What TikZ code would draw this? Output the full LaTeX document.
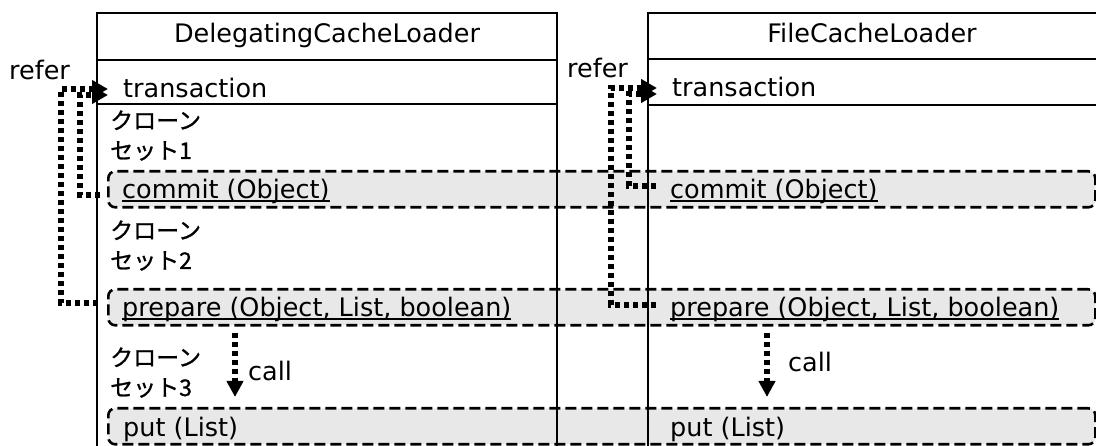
\documentclass[tikz,border=0pt]{standalone}
\usepackage{fontspec}
\setmainfont{DejaVu Sans}
\newfontfamily\jpfont[FakeBold=1]{Noto Sans CJK JP}
\usetikzlibrary{positioning,calc,arrows.meta}
\definecolor{barfill}{RGB}{232,232,232}
\newcommand{\mline}[1]{\setbox0\hbox{#1}\rlap{\rule[-3pt]{\wd0}{1.8pt}}\box0}

\begin{document}
\begin{tikzpicture}[x=1pt,y=-1pt,
    txt/.style={inner sep=0, anchor=base west, font=\fontsize{25.5}{30}\selectfont},
    jp/.style={inner sep=0, anchor=base west, font=\jpfont\fontsize{23}{26}\selectfont},
    methodbar/.style={draw, dash pattern=on 11pt off 5pt, line width=2.6pt, rounded corners=7pt, fill=barfill, minimum width=987pt, minimum height=36pt, inner sep=0, anchor=north west},
    refer/.style={line width=5.5pt, dash pattern=on 5pt off 4pt, -{Triangle[length=16pt,width=17pt]}},
    callarrow/.style={line width=5.5pt, dash pattern=on 5pt off 4pt, -{Triangle[length=16pt,width=16pt]}}]
  \useasboundingbox (0,0) rectangle (1096,446);

  % METHOD BARS
  \node [methodbar] (commitbar)  at (107,170) {};
  \node [methodbar] (preparebar) at (107,288) {};
  \node [methodbar] (putbar)     at (107,407) {};

  % CLASS BOXES
  \draw[line width=1.4pt] (97,446) -- (97,13) -- (557,13) -- (557,446);
  \draw[line width=1.4pt] (97,60) -- (557,60);
  \draw[line width=2pt] (97,104) -- (557,104);
  \draw[line width=1.4pt] (648,446) -- (648,13) -- (1096,13);
  \draw[line width=1.4pt] (648,59) -- (1096,59);
  \draw[line width=2pt] (648,105) -- (1096,105);

  \node [txt, anchor=base] (delegtitle) at (327,43) {DelegatingCacheLoader};
  \node [txt, anchor=base] (filetitle)  at (872,43) {FileCacheLoader};
  \node [txt] (delegtrans) at (123,98) {transaction};
  \node [txt] (filetrans)  at (672,97) {transaction};
  \node [txt] (delegrefer) at (9,80)   {refer};
  \node [txt] (filerefer)  at (567,78) {refer};

  \node [jp] (clone1) at (110,129) {クローン};
  \node [jp] (set1)   at (110,159) {セット1};
  \node [jp] (clone2) at (110,239) {クローン};
  \node [jp] (set2)   at (110,269) {セット2};
  \node [jp] (clone3) at (110,366) {クローン};
  \node [jp] (set3)   at (110,396) {セット3};

  \node [txt] (delegcommit)  at (122,199) {\mline{commit (Object)}};
  \node [txt] (filecommit)   at (670,199) {\mline{commit (Object)}};
  \node [txt] (delegprepare) at (122,317) {\mline{prepare (Object, List, boolean)}};
  \node [txt] (fileprepare)  at (670,317) {\mline{prepare (Object, List, boolean)}};
  \node [txt] (delegput)     at (123,437) {put (List)};
  \node [txt] (fileput)      at (670,437) {put (List)};

  % REFER
  \draw[refer] ($(delegprepare.base west)+(-24,-14)$) -- ++(-37,0) |- ($(delegtrans.base west)+(-15,-9)$);
  \draw[refer] ($(delegcommit.base west)+(-22,-4)$) -- ++(-20,0) |- ($(delegtrans.base west)+(-15,-3)$);
  \draw[refer] ($(fileprepare.base west)+(-14,-12)$) -- ++(-45,0) |- ($(filetrans.base west)+(-15,-9)$);
  \draw[refer] ($(filecommit.base west)+(-14,-13)$) -- ++(-27,0) |- ($(filetrans.base west)+(-15,-3)$);

  % CALL
  \draw[callarrow] ($(delegprepare.base west)+(113,16)$) -- ++(0,64);
  \draw[callarrow] ($(fileprepare.base west)+(97,16)$) -- ++(0,64);
  \node [txt] (delegcall) at (248,381) {call};
  \node [txt] (filecall)  at (788,372) {call};
\end{tikzpicture}
\end{document}
